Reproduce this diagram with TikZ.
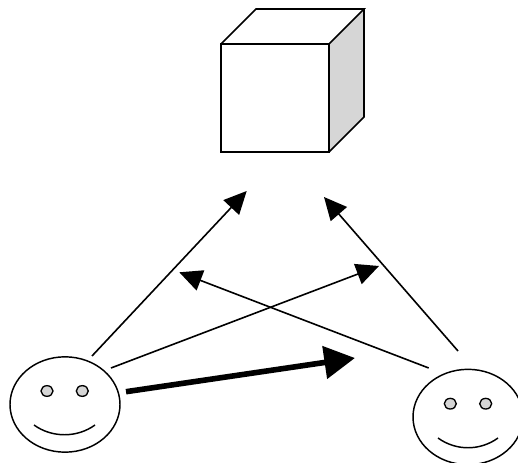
\documentclass[tikz,border=0pt]{standalone}
\usepackage{tikz}
\usetikzlibrary{shapes.geometric,arrows.meta}
\definecolor{boxgray}{gray}{0.84}
\tikzset
{
    outline/.style = {draw=black, line width=1.2pt, line join=miter},
    head/.style    = {ellipse, draw=black, line width=1.1pt, minimum width=82.5pt, minimum height=71.5pt, inner sep=0pt, outer sep=0pt},
    eye/.style     = {ellipse, draw=black, fill=boxgray, line width=1pt, minimum width=9pt, minimum height=8pt, inner sep=0pt, outer sep=0pt},
    arrow/.style   = {line width=1.2pt, -{Triangle[length=17pt, width=16pt]}},
    bigarrow/.style= {line width=4.2pt, -{Triangle[length=23pt, width=24pt]}}
}
\begin{document}
\begin{tikzpicture}[x=0.75pt, y=-0.75pt]
	\useasboundingbox (0,0) rectangle (518,463);

	% box
	\fill [boxgray] (329,44) -- (364,9) -- (364,117) -- (329,152) -- cycle;
	\draw [outline] (221,44) rectangle (329,152);
	\draw [outline] (221,44) -- (256,9) -- (364,9) -- (329,44);
	\draw [outline] (364,9) -- (364,117) -- (329,152);

	% left person
	\node (headL) [head] at (65,404.5) {};
	\node (eyeL1) [eye] at (47,391) {};
	\node (eyeL2) [eye] at (82.3,391) {};
	\draw [line width=1.1pt] (34,425) .. controls (52,438) and (77,438) .. (95,425);

	% right person
	\node (headR) [head] at (468,417) {};
	\node (eyeR1) [eye] at (450.3,403.7) {};
	\node (eyeR2) [eye] at (485.7,403.7) {};
	\draw [line width=1.1pt] (438,438) .. controls (456,451) and (480,451) .. (498,438);

	\coordinate (a1) at (92,356);
	\coordinate (a2) at (246.7,191);
	\coordinate (b1) at (111,368);
	\coordinate (b2) at (379,266);
	\coordinate (c1) at (428.7,368);
	\coordinate (c2) at (179.3,272.3);
	\coordinate (d1) at (458,351);
	\coordinate (d2) at (324,197);
	\coordinate (e1) at (126,391.7);
	\coordinate (e2) at (355,358);

	\draw [arrow] (a1) -- (a2);
	\draw [arrow] (b1) -- (b2);
	\draw [arrow] (c1) -- (c2);
	\draw [arrow] (d1) -- (d2);
	\draw [bigarrow] (e1) -- (e2);
\end{tikzpicture}
\end{document}
